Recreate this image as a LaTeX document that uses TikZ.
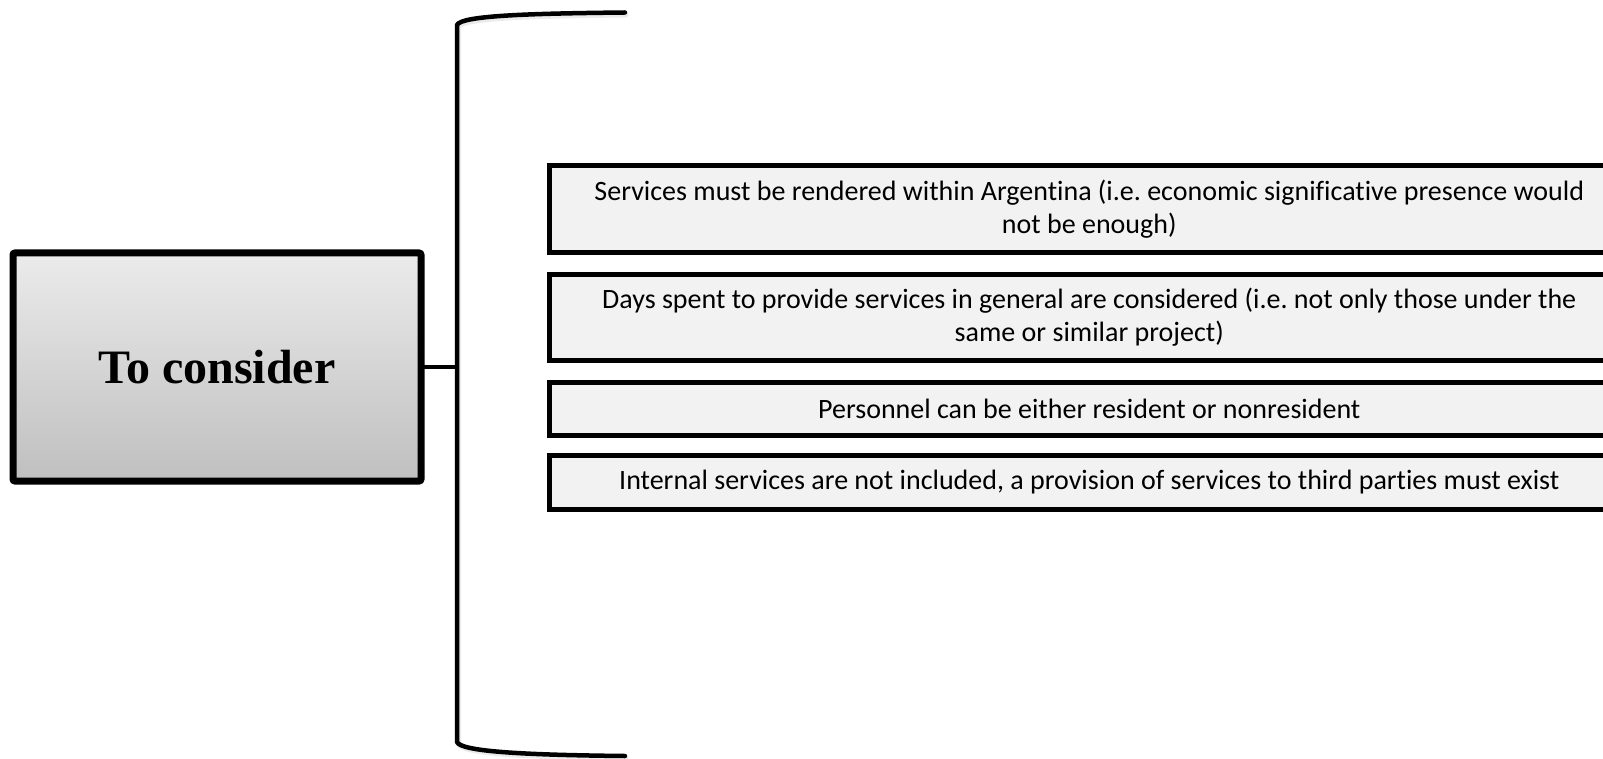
\documentclass[tikz,border=0pt]{standalone}
\usepackage{fontspec}
\setmainfont[Ligatures=NoCommon]{Carlito}
\newfontfamily\titlefont{Liberation Serif}
\usetikzlibrary{shadows}
\frenchspacing
\definecolor{itemfill}{HTML}{F2F2F2}
\definecolor{gtop}{HTML}{EBEBEB}
\definecolor{gbot}{HTML}{BFBFBF}
\tikzset{
  itembox/.style={draw=black, line width=5pt, fill=itemfill, outer sep=0pt, inner sep=0pt,
    align=center, font=\fontsize{28}{32.7}\selectfont,
    drop shadow={opacity=0.25, shadow xshift=1.5pt, shadow yshift=-1.5pt}},
  mainbox/.style={draw=black, line width=7pt, rounded corners=2pt, top color=gtop, bottom color=gbot,
    outer sep=0pt, inner sep=0pt, align=center, font=\titlefont\bfseries\fontsize{48}{56}\selectfont,
    drop shadow={opacity=0.3, shadow xshift=2pt, shadow yshift=-2pt}},
  bracketline/.style={line width=4.5pt, line cap=round, line join=round},
}
\begin{document}
\begin{tikzpicture}[x=1pt,y=-1pt]
\clip (0,0) rectangle (1603,759);
\fill[white] (0,0) rectangle (1603,759);
% bracket
\coordinate (btop) at (625,12.5);
\coordinate (bbot) at (625,756);
\coordinate (bmid) at (457,367);
\draw[bracketline, black!15, line width=5pt, opacity=0.5] (626,15) .. controls (530,16) and (462,18) .. (458.5,27) -- (458.5,744) .. controls (462,754) and (530,757) .. (626,758.5);
\draw[bracketline] (btop) .. controls (530,13.5) and (461,15.5) .. (457,25) -- (457,742) .. controls (461,752) and (530,755) .. (bbot);
% main box
\node[mainbox, minimum width=408pt, minimum height=228pt] (main) at (217,367) {To consider};
\draw[line width=4.5pt] (main.east) -- (bmid);
% items
\node[itembox, minimum width=1079.5pt, minimum height=87pt] (i1) at (1089.25,209)
  {\raisebox{-1pt}{}Services must be rendered within Argentina (i.e. economic significative presence would\\not be enough)};
\node[itembox, minimum width=1079.5pt, minimum height=86pt] (i2) at (1089.25,317.5)
  {Days spent to provide services in general are considered (i.e. not only those under the\\same or similar project)};
\node[itembox, minimum width=1079.5pt, minimum height=53pt] (i3) at (1089.25,409)
  {Personnel can be either resident or nonresident};
\node[itembox, minimum width=1079.5pt, minimum height=54pt] (i4) at (1089.25,482.5)
  {Internal services are not included, a provision of services to third parties must exist};
\end{tikzpicture}
\end{document}
